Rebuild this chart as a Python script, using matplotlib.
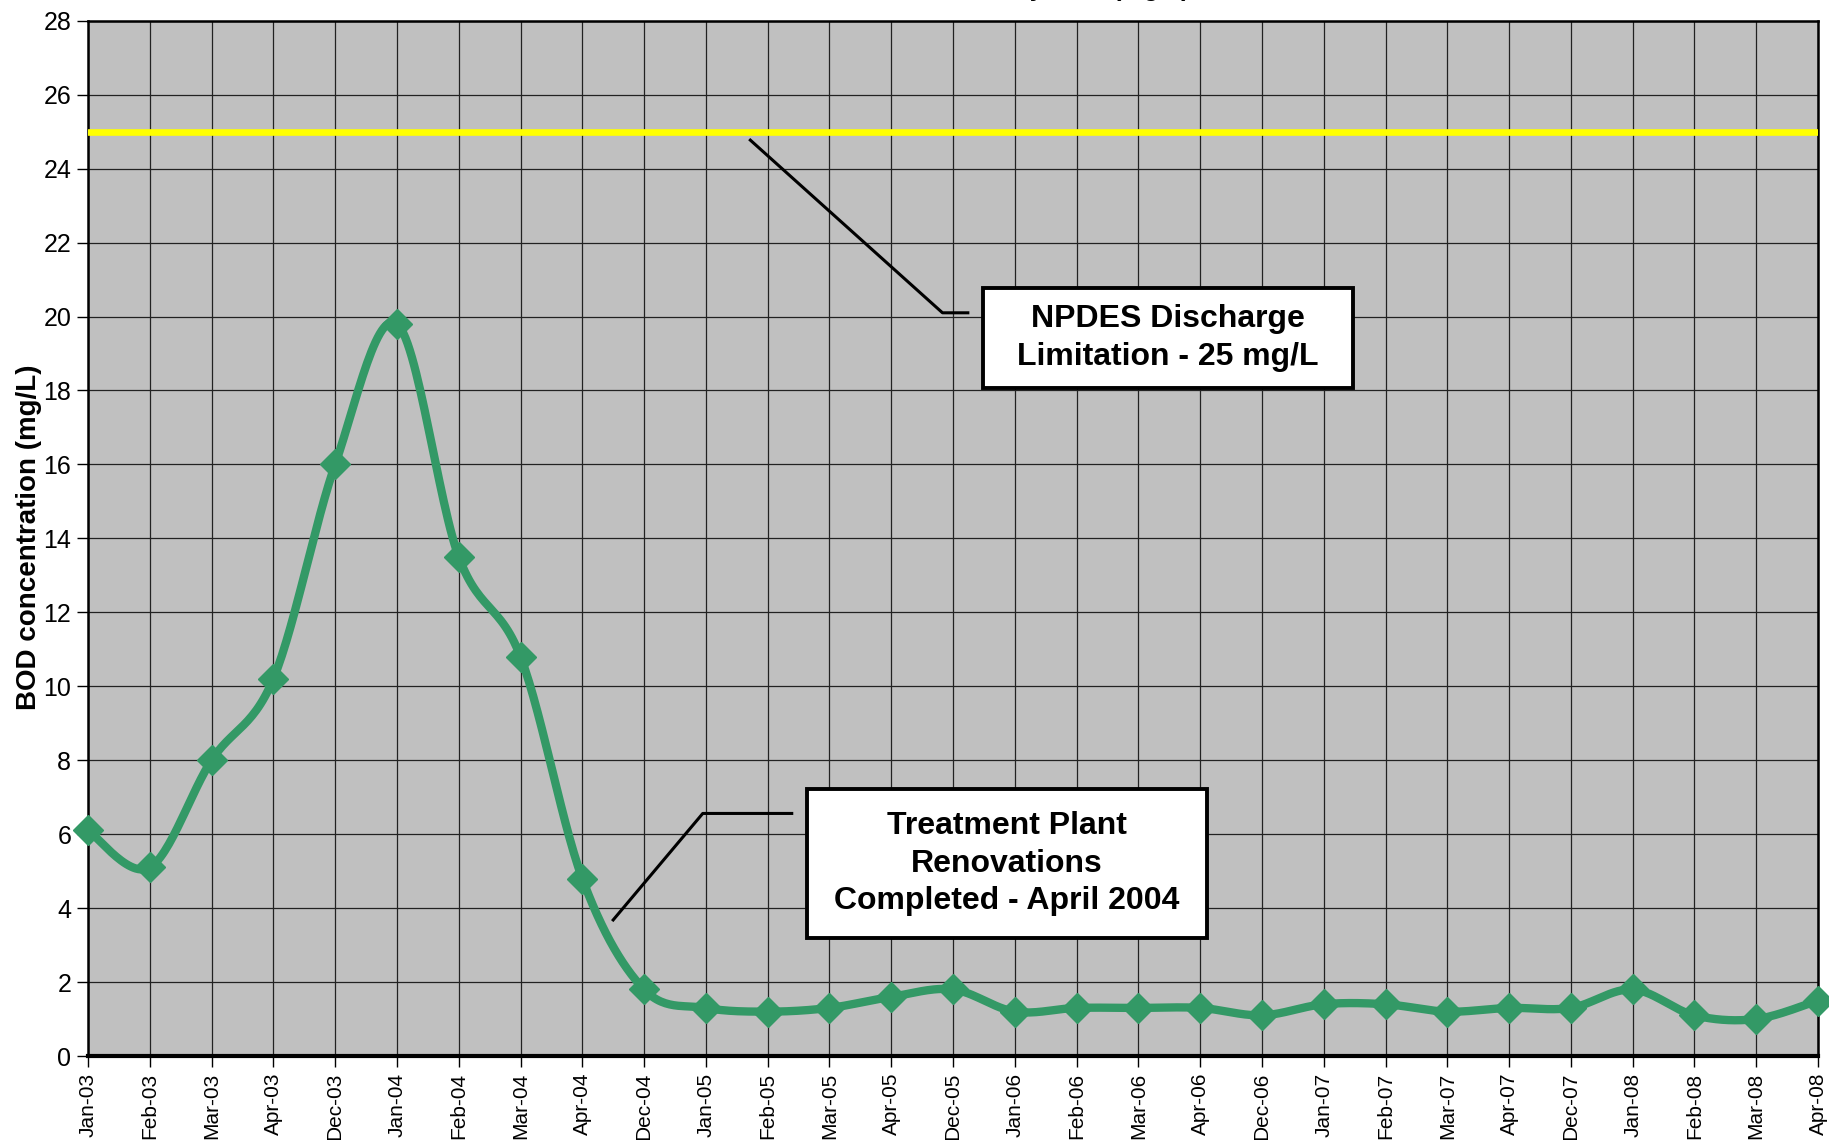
import numpy as np
import matplotlib
matplotlib.use("Agg")
from matplotlib import pyplot as plt
from matplotlib.patches import Rectangle

plt.rcParams["font.family"] = ["Liberation Sans", "DejaVu Sans"]

months = ["Jan-03", "Feb-03", "Mar-03", "Apr-03", "Dec-03", "Jan-04", "Feb-04",
          "Mar-04", "Apr-04", "Dec-04", "Jan-05", "Feb-05", "Mar-05", "Apr-05",
          "Dec-05", "Jan-06", "Feb-06", "Mar-06", "Apr-06", "Dec-06", "Jan-07",
          "Feb-07", "Mar-07", "Apr-07", "Dec-07", "Jan-08", "Feb-08", "Mar-08",
          "Apr-08"]
bod = [6.1, 5.1, 8.0, 10.2, 16.0, 19.8, 13.5, 10.8, 4.8, 1.8, 1.3, 1.2, 1.3, 1.6,
       1.8, 1.2, 1.3, 1.3, 1.3, 1.1, 1.4, 1.4, 1.2, 1.3, 1.3, 1.8, 1.1, 1.0, 1.5]
npdes_limit = 25


def smooth_curve(x, y, n=30):
    """
    Excel-like smoothed line: cubic Bezier through the points
    with Catmull-Rom control points.
    """
    pts = np.column_stack([x, y]).astype(float)
    padded = np.vstack([pts[0], pts, pts[-1]])
    t = np.linspace(0, 1, n)[:, None]
    out = []
    for i in range(len(pts) - 1):
        p0 = padded[i + 1]
        p3 = padded[i + 2]
        c1 = p0 + (padded[i + 2] - padded[i]) / 6
        c2 = p3 - (padded[i + 3] - padded[i + 1]) / 6
        seg = ((1 - t) ** 3) * p0 + 3 * ((1 - t) ** 2) * t * c1 \
            + 3 * (1 - t) * t ** 2 * c2 + t ** 3 * p3
        out.append(seg if i == 0 else seg[1:])
    out = np.vstack(out)
    return out[:, 0], out[:, 1]


def callout(ax, line_x, line_y, box, text):
    """
    Draw a leader line and a white text box (box = x0, y0, x1, y1 in data units).
    """
    ax.plot(line_x, line_y, color="black", linewidth=2.2, zorder=6)
    x0, y0, x1, y1 = box
    ax.add_patch(Rectangle((x0, y0), x1 - x0, y1 - y0, facecolor="white",
                           edgecolor="black", linewidth=2.8, zorder=7))
    ax.text((x0 + x1) / 2, (y0 + y1) / 2, text, ha="center", va="center",
            fontsize=23, fontweight="bold", linespacing=1.34, zorder=8)


fig = plt.figure(figsize=(18.29, 11.40), dpi=100)
ax = fig.add_axes([88 / 1829, 1 - 1056 / 1140, (1818 - 88) / 1829, (1056 - 20.7) / 1140])
ax.set_facecolor("#C0C0C0")

x = np.arange(len(months))
ax.set_xlim(0, len(months) - 1)
ax.set_ylim(0, 28)

ax.set_xticks(x)
ax.set_xticklabels(months, rotation=90, fontsize=15)
ax.set_yticks(np.arange(0, 29, 2))
ax.tick_params(axis="y", labelsize=18, length=8, width=1, direction="out", pad=4)
ax.tick_params(axis="x", length=8, width=1, direction="out", pad=4)
ax.grid(True, color="#222222", linewidth=0.9)
ax.set_axisbelow(True)
for side in ["left", "top", "right"]:
    ax.spines[side].set_linewidth(1.8)
ax.spines["bottom"].set_linewidth(3)

ax.axhline(npdes_limit, color="#FFFF00", linewidth=4.8, solid_capstyle="round", zorder=3)

sx, sy = smooth_curve(x, bod)
ax.plot(sx, sy, color="#339966", linewidth=6, zorder=4, clip_on=False)
ax.plot(x, bod, linestyle="none", marker="D", markersize=15,
        color="#339966", zorder=5, clip_on=False)

callout(ax, [10.72, 13.83, 14.24], [24.77, 20.10, 20.10],
        (14.48, 18.06, 20.47, 20.77), "NPDES Discharge\nLimitation - 25 mg/L")
callout(ax, [8.50, 9.95, 11.39], [3.68, 6.56, 6.56],
        (11.64, 3.19, 18.11, 7.22), "Treatment Plant\nRenovations\nCompleted - April 2004")

fig.text(29 / 1829, 0.529, "BOD concentration (mg/L)", rotation=90, ha="center",
         va="center", fontsize=20, fontweight="bold")

# chart title, mostly cut off by the top edge
fig.text(1190 / 1829, 1 + 4 / 1140, "Monthly BOD (mg/L)", ha="right",
         va="baseline", fontsize=18, fontweight="bold")

fig.savefig("out.png", dpi=100)
